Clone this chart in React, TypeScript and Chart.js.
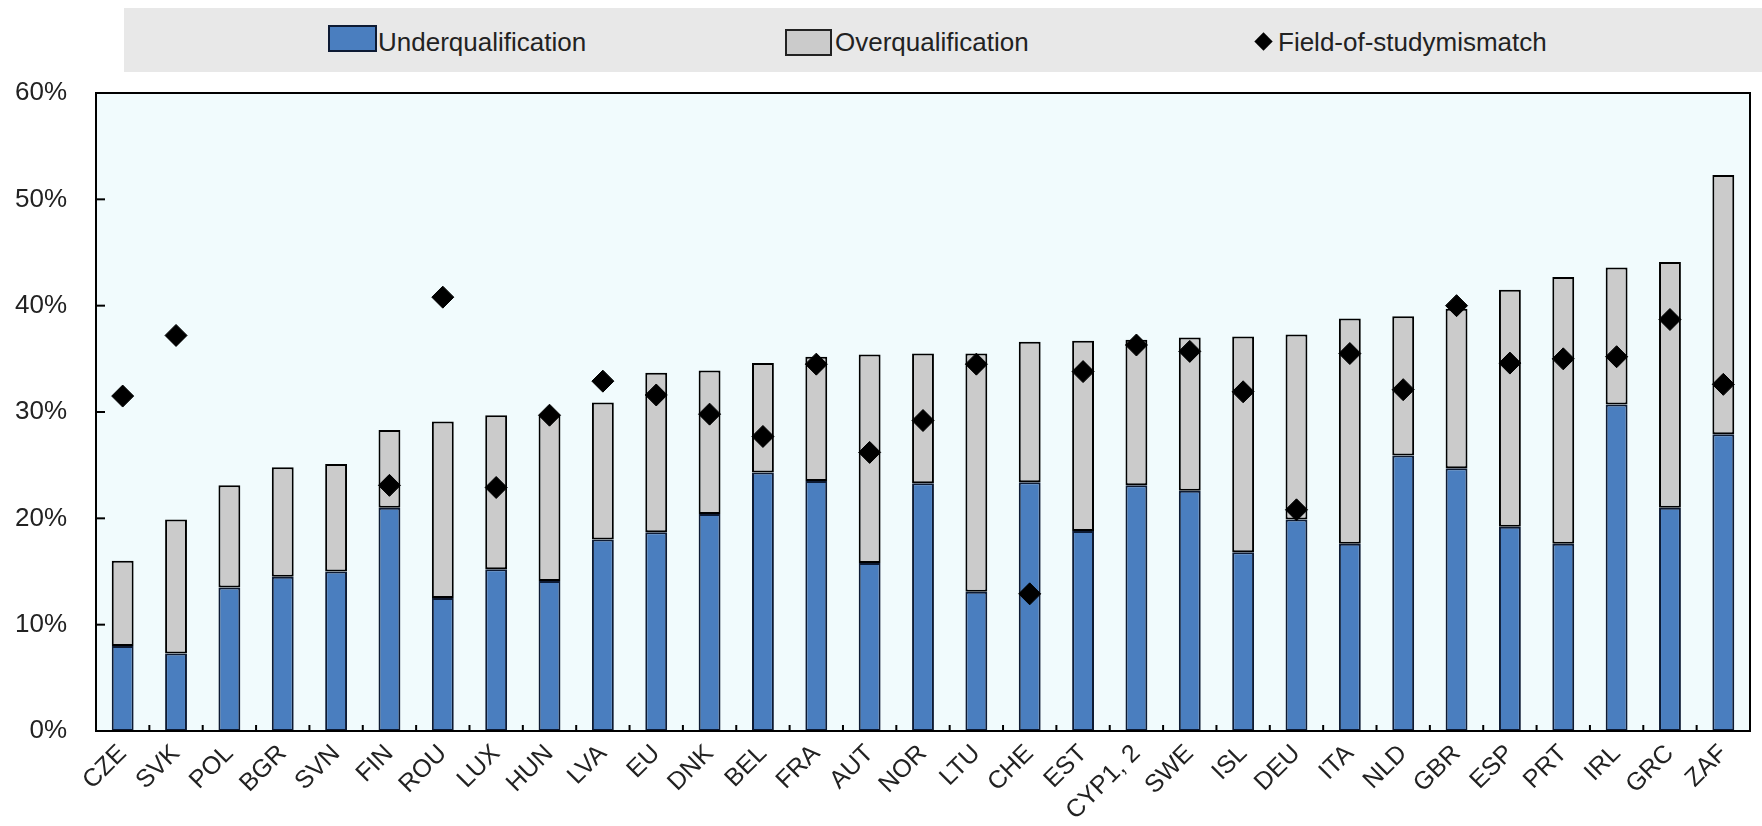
import React, { useEffect, useRef } from "react";
import { Chart, registerables } from "chart.js";

Chart.register(...registerables);

const categories = ["CZE","SVK","POL","BGR","SVN","FIN","ROU","LUX","HUN","LVA","EU","DNK","BEL","FRA","AUT","NOR","LTU","CHE","EST","CYP1, 2","SWE","ISL","DEU","ITA","NLD","GBR","ESP","PRT","IRL","GRC","ZAF"];
const underqualification = [8.0,7.3,13.5,14.5,15.0,21.0,12.5,15.2,14.1,18.0,18.7,20.4,24.3,23.5,15.8,23.3,13.1,23.4,18.8,23.1,22.6,16.8,19.9,17.6,25.9,24.7,19.2,17.6,30.7,21.0,27.9];
const overqualification = [8.0,12.6,9.6,10.3,10.1,7.3,16.6,14.5,15.6,12.9,15.0,13.5,10.3,11.7,19.6,12.2,22.4,13.2,17.9,13.7,14.4,20.3,17.4,21.2,13.1,15.0,22.3,25.1,12.9,23.1,24.4];
const fieldOfStudy = [31.5,37.2,null,null,null,23.1,40.8,22.9,29.7,32.9,31.6,29.8,27.7,34.5,26.2,29.2,34.5,12.9,33.8,36.3,35.7,31.9,20.8,35.5,32.1,40.0,34.6,35.0,35.2,38.7,32.6];
const yTicks = [0,10,20,30,40,50,60];

const FONT = "'Liberation Sans', Arial, sans-serif";
const BLUE = "#4a7ebf";
const GREY = "#cbcbcb";
const TEXT = "#222";

const frame = {
  id: "frame",
  beforeDraw(chart: any) {
    const { ctx, chartArea: a } = chart;
    ctx.save();
    ctx.fillStyle = "#f1fbfd";
    ctx.fillRect(a.left, a.top, a.right - a.left, a.bottom - a.top);
    ctx.restore();
  },
  afterDraw(chart: any) {
    const { ctx, chartArea: a, scales } = chart;
    ctx.save();
    ctx.strokeStyle = "#000";
    ctx.lineWidth = 2;
    for (const v of yTicks) {
      const y = scales.y.getPixelForValue(v);
      ctx.beginPath();
      ctx.moveTo(a.left, y);
      ctx.lineTo(a.left + 9, y);
      ctx.stroke();
    }
    const n = categories.length;
    for (let i = 1; i < n; i++) {
      const x = (scales.x.getPixelForValue(i - 1) + scales.x.getPixelForValue(i)) / 2;
      ctx.beginPath();
      ctx.moveTo(x, a.bottom);
      ctx.lineTo(x, a.bottom - 6);
      ctx.stroke();
    }
    ctx.strokeRect(a.left, a.top, a.right - a.left, a.bottom - a.top);
    ctx.restore();
  },
};

export default function App() {
  const ref = useRef<HTMLCanvasElement>(null);
  useEffect(() => {
    const chart = new Chart(ref.current!, {
      type: "bar",
      data: {
        labels: categories,
        datasets: [
          {
            type: "line",
            label: "Field-of-studymismatch",
            data: fieldOfStudy as any,
            showLine: false,
            pointStyle: "rectRot",
            pointRadius: 11,
            pointBackgroundColor: "#000",
            pointBorderColor: "#000",
            pointBorderWidth: 1,
            stack: "fos",
            order: 0,
          } as any,
          {
            label: "Underqualification",
            data: underqualification,
            backgroundColor: BLUE,
            borderColor: "#0d1a33",
            borderWidth: 2,
            borderSkipped: false,
            stack: "s",
            order: 1,
          },
          {
            label: "Overqualification",
            data: overqualification,
            backgroundColor: GREY,
            borderColor: "#000",
            borderWidth: 2,
            borderSkipped: false,
            stack: "s",
            order: 1,
          },
        ],
      },
      options: {
        animation: false,
        responsive: false,
        maintainAspectRatio: false,
        layout: { padding: { top: 93, right: 2, left: 0, bottom: 0 } },
        plugins: { legend: { display: false }, tooltip: { enabled: false } },
        datasets: { bar: { barPercentage: 0.41, categoryPercentage: 1 } },
        scales: {
          x: {
            stacked: true,
            offset: true,
            grid: { display: false, drawTicks: false },
            border: { display: false },
            ticks: {
              autoSkip: false,
              maxRotation: 45,
              minRotation: 45,
              padding: 8,
              color: TEXT,
              font: { family: FONT, size: 25 },
            },
            afterFit(scale: any) { scale.height = 826 - 731; },
          },
          y: {
            stacked: true,
            min: 0,
            max: 60,
            grid: { display: false, drawTicks: false },
            border: { display: false },
            afterBuildTicks(scale: any) { scale.ticks = yTicks.map((v) => ({ value: v })); },
            ticks: {
              padding: 29,
              color: TEXT,
              font: { family: FONT, size: 26 },
              callback: (v: any) => v + "%",
            },
            afterFit(scale: any) { scale.width = 96; },
          },
        },
      },
      plugins: [frame],
    });
    return () => chart.destroy();
  }, []);

  const legendText: React.CSSProperties = {
    position: "absolute",
    top: 27,
    fontFamily: FONT,
    fontSize: 26,
    color: TEXT,
    lineHeight: "30px",
    whiteSpace: "nowrap",
  };
  return (
    <div style={{ position: "absolute", left: 0, top: 0, width: 1762, height: 826, background: "#fff" }}>
      <canvas ref={ref} width={1762} height={826} style={{ position: "absolute", left: 0, top: 0, width: 1762, height: 826 }} />
      <div style={{ position: "absolute", left: 124, top: 8, width: 1638, height: 64, background: "#e8e8e8" }} />
      <div style={{ position: "absolute", left: 328, top: 25, width: 45, height: 23, background: BLUE, border: "2px solid #0d1a33" }} />
      <div style={{ ...legendText, left: 378 }}>Underqualification</div>
      <div style={{ position: "absolute", left: 785, top: 29, width: 43, height: 23, background: GREY, border: "2px solid #222" }} />
      <div style={{ ...legendText, left: 835 }}>Overqualification</div>
      <div style={{ position: "absolute", left: 1257, top: 35, width: 13, height: 13, background: "#000", transform: "rotate(45deg)" }} />
      <div style={{ ...legendText, left: 1278 }}>Field-of-studymismatch</div>
    </div>
  );
}
